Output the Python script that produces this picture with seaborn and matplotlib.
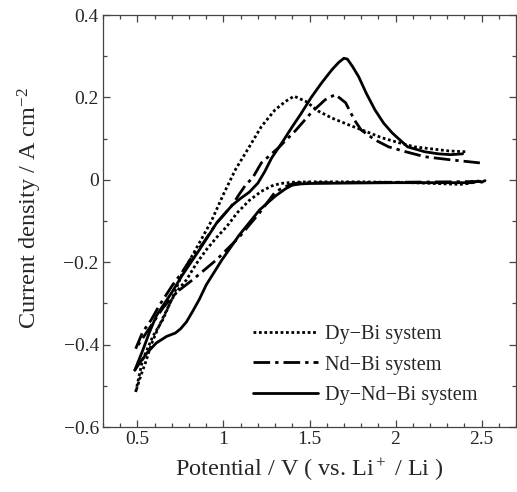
import pandas as pd
import matplotlib.pyplot as plt
import seaborn as sns
from matplotlib.ticker import MultipleLocator

# Dy-Bi system (dotted)
dybi_cath_v = [2.45, 2.42, 2.38, 2.30, 2.10, 1.80, 1.50, 1.40, 1.33, 1.28, 1.22, 1.15, 1.08, 1.02,
               0.96, 0.90, 0.84, 0.785, 0.74, 0.70, 0.66, 0.62, 0.58, 0.55, 0.52, 0.49]
dybi_cath_i = [-0.003, -0.009, -0.011, -0.010, -0.007, -0.005, -0.005, -0.006, -0.009, -0.015, -0.028,
               -0.05, -0.08, -0.113, -0.14, -0.17, -0.205, -0.243, -0.265, -0.29, -0.325, -0.36,
               -0.40, -0.44, -0.475, -0.515]
dybi_anod_v = [0.49, 0.53, 0.59, 0.647, 0.705, 0.76, 0.86, 0.93, 1.00, 1.07, 1.15, 1.22, 1.30, 1.36,
               1.41, 1.48, 1.55, 1.63, 1.73, 1.83, 1.92, 2.02, 2.11, 2.21, 2.31, 2.41]
dybi_anod_i = [-0.515, -0.437, -0.38, -0.34, -0.285, -0.228, -0.153, -0.10, -0.035, 0.025, 0.08,
               0.129, 0.17, 0.19, 0.203, 0.19, 0.167, 0.15, 0.133, 0.117, 0.102, 0.09, 0.08, 0.075,
               0.07, 0.068]

# Nd-Bi system (dash-dot)
ndbi_cath_v = [2.50, 2.30, 2.00, 1.70, 1.45, 1.40, 1.35, 1.30, 1.21, 1.09, 0.96, 0.82, 0.73, 0.65,
               0.57, 0.49]
ndbi_cath_i = [-0.004, -0.005, -0.006, -0.007, -0.007, -0.01, -0.018, -0.03, -0.08, -0.14, -0.194,
               -0.243, -0.272, -0.31, -0.36, -0.41]
ndbi_anod_v = [0.49, 0.53, 0.58, 0.63, 0.705, 0.757, 0.82, 0.88, 0.96, 1.05, 1.09, 1.13, 1.17, 1.22,
               1.32, 1.42, 1.51, 1.59, 1.65, 1.71, 1.76, 1.80, 1.88, 1.96, 2.06, 2.17, 2.31, 2.49]
ndbi_anod_i = [-0.41, -0.37, -0.34, -0.303, -0.255, -0.226, -0.185, -0.155, -0.105, -0.062, -0.036,
               -0.012, 0.005, 0.041, 0.078, 0.12, 0.163, 0.194, 0.207, 0.187, 0.146, 0.121, 0.097,
               0.08, 0.068, 0.056, 0.049, 0.041]

# Dy-Nd-Bi system (solid)
dyndbi_cath_v = [2.52, 2.50, 2.48, 2.45, 2.30, 2.00, 1.70, 1.50, 1.45, 1.40, 1.36, 1.30, 1.21, 1.09,
                 0.99, 0.90, 0.86, 0.82, 0.785, 0.75, 0.72, 0.67, 0.61, 0.56, 0.514, 0.485]
dyndbi_cath_i = [-0.002, -0.006, -0.003, -0.007, -0.007, -0.007, -0.008, -0.009, -0.010, -0.013,
                 -0.022, -0.04, -0.073, -0.135, -0.195, -0.255, -0.29, -0.32, -0.345, -0.362,
                 -0.372, -0.38, -0.396, -0.418, -0.444, -0.462]
dyndbi_anod_v = [0.485, 0.53, 0.57, 0.61, 0.705, 0.76, 0.86, 0.96, 1.05, 1.10, 1.15, 1.20, 1.24, 1.28,
                 1.34, 1.40, 1.45, 1.51, 1.57, 1.63, 1.67, 1.70, 1.72, 1.75, 1.786, 1.83, 1.88, 1.93,
                 1.98, 2.07, 2.17, 2.25, 2.32, 2.39]
dyndbi_anod_i = [-0.462, -0.415, -0.37, -0.33, -0.27, -0.232, -0.17, -0.105, -0.062, -0.045, -0.03,
                 -0.008, 0.02, 0.053, 0.09, 0.129, 0.16, 0.20, 0.235, 0.267, 0.285, 0.295, 0.293,
                 0.275, 0.25, 0.21, 0.17, 0.138, 0.114, 0.08, 0.068, 0.063, 0.061, 0.063]

systems = ['Dy\u2212Bi system', 'Nd\u2212Bi system', 'Dy\u2212Nd\u2212Bi system']

branches = [
    (systems[0], 'cath', dybi_cath_v, dybi_cath_i),
    (systems[0], 'anod', dybi_anod_v, dybi_anod_i),
    (systems[1], 'cath', ndbi_cath_v, ndbi_cath_i),
    (systems[1], 'anod', ndbi_anod_v, ndbi_anod_i),
    (systems[2], 'cath', dyndbi_cath_v, dyndbi_cath_i),
    (systems[2], 'anod', dyndbi_anod_v, dyndbi_anod_i),
]
frames = []
for name, part, v, i in branches:
    frames.append(pd.DataFrame({'V': v, 'I': i, 'system': name, 'branch': name + part}))
data = pd.concat(frames, ignore_index=True)

sns.set_style('ticks')
plt.rcParams['font.family'] = ['Liberation Serif', 'DejaVu Serif']
plt.rcParams['mathtext.fontset'] = 'custom'
plt.rcParams['mathtext.rm'] = 'Liberation Serif'
plt.rcParams['mathtext.it'] = 'Liberation Serif:italic'
plt.rcParams['axes.unicode_minus'] = True

fig = plt.figure(figsize=(5.17, 4.92), dpi=100)
ax = fig.add_axes([103 / 517, 1 - 427 / 492, 413 / 517, 412 / 492])

line_dashes = {systems[0]: (1.0, 0.95), systems[1]: (6, 1.8, 1.2, 1.8), systems[2]: ''}
sns.lineplot(data=data, x='V', y='I', style='system', style_order=systems, units='branch',
             estimator=None, sort=False, color='black', dashes=line_dashes, lw=2, ax=ax)

ax.set_xlim(0.3, 2.7)
ax.set_ylim(-0.6, 0.4)
ax.xaxis.set_minor_locator(MultipleLocator(0.1))
ax.yaxis.set_minor_locator(MultipleLocator(0.1))
ax.set_xticks([0.5, 1, 1.5, 2, 2.5])
ax.set_xticklabels(['0.5', '1', '1.5', '2', '2.5'])
ax.set_yticks([-0.6, -0.4, -0.2, 0, 0.2, 0.4])
ax.set_yticklabels(['\u22120.6', '\u22120.4', '\u22120.2', '0', '0.2', '0.4'])
ax.tick_params(which='both', direction='in', top=True, right=True, color='#444444',
               labelsize=14, pad=3)
ax.tick_params(which='major', length=5, width=0.9)
ax.tick_params(which='minor', length=3, width=0.9)
for s in ax.spines.values():
    s.set_color('#444444')
    s.set_linewidth(0.9)

ax.set_xlabel('Potential / V ( vs. Li$^+$ / Li )', fontsize=17.5, labelpad=6)
ax.set_ylabel('Current density / A cm$^{-2}$', fontsize=17.5)
ax.yaxis.set_label_coords(-0.143, 0.53)

handles, labels = ax.get_legend_handles_labels()
for h in handles:
    h.set_color('black')
    h.set_linewidth(2)
ax.legend(handles, labels, loc='upper left', bbox_to_anchor=(253 / 517, 1 - 325 / 492),
          bbox_transform=fig.transFigure, frameon=False, fontsize=14.6, handlelength=3.2,
          handletextpad=0.35, labelspacing=0.55, borderpad=0, borderaxespad=0)

fig.savefig('out.png', dpi=100)
